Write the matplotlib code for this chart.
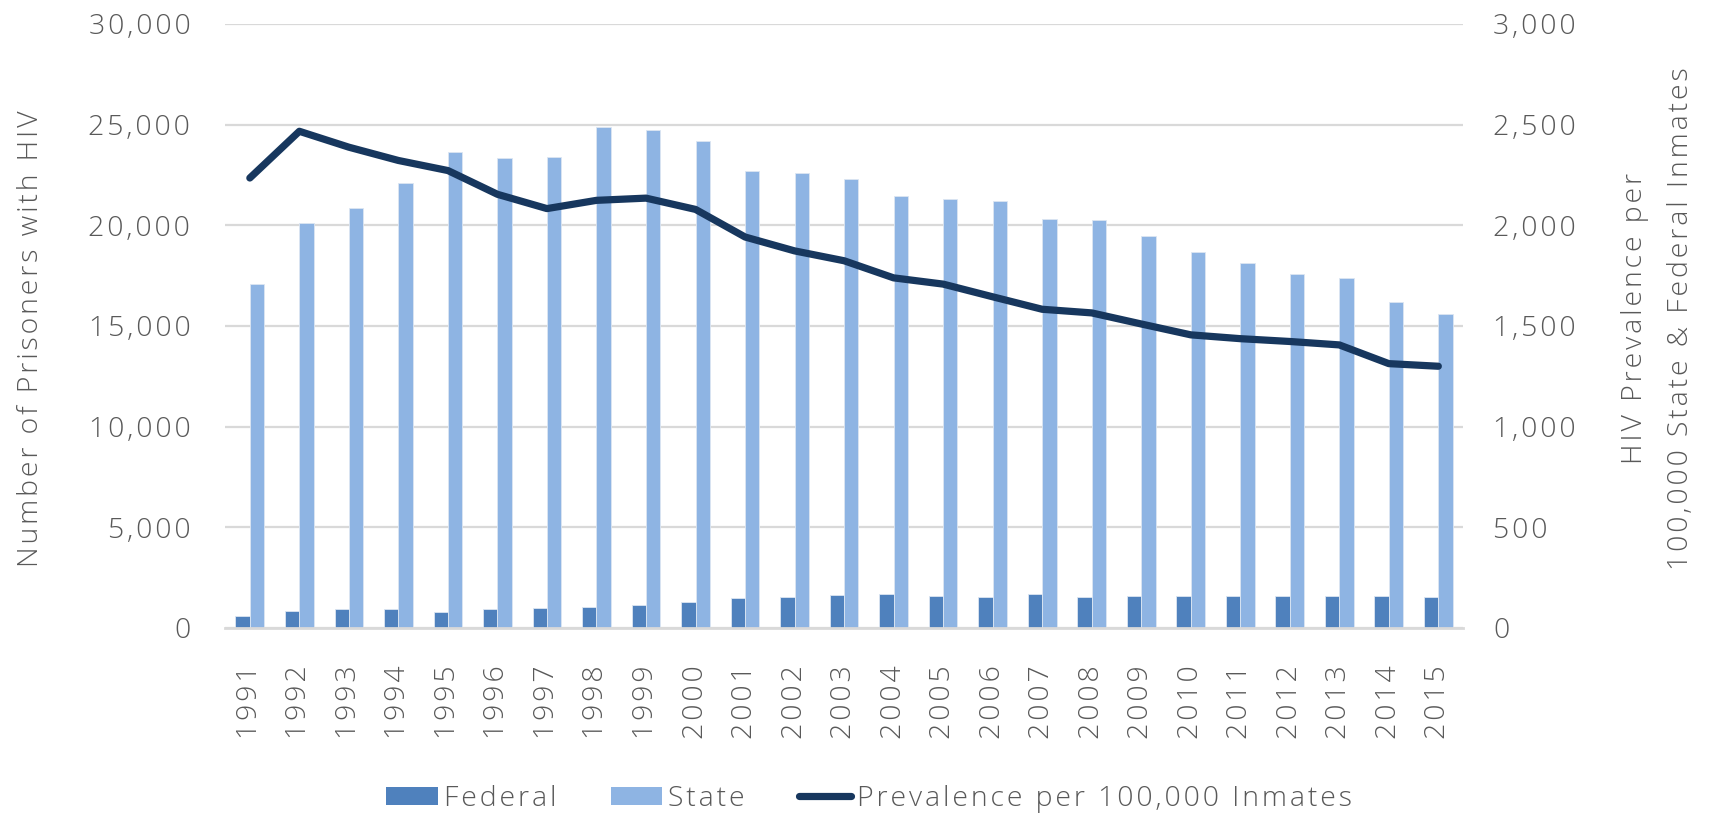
import matplotlib
matplotlib.use("Agg")
import matplotlib.pyplot as plt
import numpy as np
from matplotlib.ticker import FuncFormatter, MultipleLocator
from matplotlib.lines import Line2D
from matplotlib.patches import Patch

years = [str(y) for y in range(1991, 2016)]
federal = [612, 860, 959, 959, 810, 926, 1008, 1041, 1140, 1273, 1504, 1537, 1620,
           1669, 1587, 1521, 1669, 1521, 1570, 1570, 1603, 1570, 1603, 1570, 1521]
state = [17063, 20132, 20860, 22080, 23664, 23350, 23383, 24900, 24752, 24190,
         22690, 22575, 22277, 21469, 21304, 21188, 20314, 20248, 19456, 18697,
         18152, 17575, 17377, 16189, 15611]
prevalence = [2235, 2467, 2388, 2322, 2272, 2154, 2083, 2124, 2135, 2079, 1942,
              1873, 1824, 1739, 1708, 1645, 1583, 1565, 1510, 1456, 1437, 1423,
              1406, 1313, 1300]

FAM = ["Open Sans", "DejaVu Sans"]
TXT = "#595959"
FS = 20.5
C_FED = "#4F81BD"
C_STATE = "#8EB4E3"
C_LINE = "#17375E"
GRID = "#D9D9D9"
SP = "\u200a"


def spaced(s):
    return SP.join(s)


plt.rcParams["font.family"] = FAM
plt.rcParams["font.weight"] = 300

fig = plt.figure(figsize=(17.09, 8.21), dpi=100)
ax = fig.add_axes([0.1317, 0.2351, 0.7244, 0.7357])
ax2 = ax.twinx()

x = np.arange(len(years))
bw = 0.29
ax.bar(x - bw / 2, federal, bw, color=C_FED, edgecolor="#DCE6F2", linewidth=0.6, zorder=2)
ax.bar(x + bw / 2, state, bw, color=C_STATE, edgecolor="#DCE6F2", linewidth=0.6, zorder=2)
ax2.plot(x, prevalence, color=C_LINE, lw=5.2, solid_capstyle="round",
         solid_joinstyle="round", zorder=3)

ax.set_xlim(-0.5, len(years) - 0.5)
ax.set_ylim(0, 30000)
ax2.set_ylim(0, 3000)
ax.yaxis.set_major_locator(MultipleLocator(5000))
ax2.yaxis.set_major_locator(MultipleLocator(500))
ax.yaxis.set_major_formatter(FuncFormatter(lambda v, p: spaced(f"{int(v):,}")))
ax2.yaxis.set_major_formatter(FuncFormatter(lambda v, p: spaced(f"{int(v):,}")))

ax.grid(axis="y", color=GRID, lw=1.6, zorder=0)
ax.set_axisbelow(True)
for a in (ax, ax2):
    for s in a.spines.values():
        s.set_visible(False)
ax.spines["bottom"].set_visible(True)
ax.spines["bottom"].set_color(GRID)
ax.spines["bottom"].set_linewidth(2)

ax.set_xticks(x)
ax.set_xticklabels([spaced(y) for y in years], rotation=90, fontsize=FS, color=TXT)
ax.tick_params(axis="x", length=0, pad=27)
ax.tick_params(axis="y", length=0, pad=25, labelsize=FS, labelcolor=TXT)
ax2.tick_params(axis="y", length=0, pad=21.5, labelsize=FS, labelcolor=TXT)

fig.text(31 / 1709, 0.588, spaced("Number of Prisoners with HIV"), rotation=90,
         ha="center", va="center", fontsize=FS, color=TXT)
fig.text(1658 / 1709, 0.612,
         spaced("HIV Prevalence per") + "\n" + spaced("100,000 State & Federal Inmates"),
         rotation=90, ha="center", va="center", fontsize=FS, color=TXT,
         linespacing=1.9, multialignment="center")

handles = [Patch(facecolor=C_FED, edgecolor="none"),
           Patch(facecolor=C_STATE, edgecolor="none"),
           Line2D([0], [0], color=C_LINE, lw=5.2, solid_capstyle="round")]
labels = [spaced("Federal"), spaced("State"), spaced("Prevalence per 100,000 Inmates")]
leg = fig.legend(handles, labels, loc="center", bbox_to_anchor=(0.5085, 0.027), ncol=3,
                 frameon=False, fontsize=FS, handlelength=1.82, handleheight=0.6,
                 handletextpad=0.21, columnspacing=1.9)
for t in leg.get_texts():
    t.set_color(TXT)

fig.savefig("out.png", dpi=100)
